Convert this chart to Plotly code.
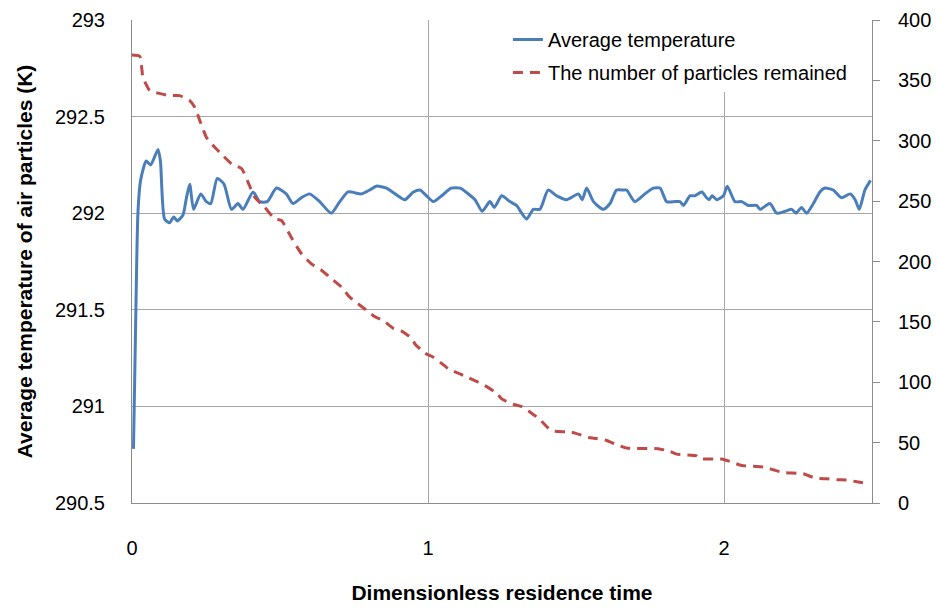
import plotly.graph_objects as go

# Average temperature of air particles (K)
temp_t = [0.005, 0.012, 0.020, 0.029, 0.048, 0.063, 0.088, 0.096, 0.110, 0.127, 0.141, 0.153, 0.172,
          0.184, 0.195, 0.208, 0.232, 0.251, 0.266, 0.288, 0.311, 0.336, 0.358, 0.375, 0.409,
          0.431, 0.457, 0.488, 0.521, 0.544, 0.572, 0.600, 0.634, 0.673, 0.702, 0.730, 0.775,
          0.803, 0.825, 0.860, 0.889, 0.922, 0.951, 0.973, 0.995, 1.018, 1.046, 1.078, 1.109,
          1.136, 1.159, 1.183, 1.209, 1.224, 1.249, 1.277, 1.299, 1.333, 1.356, 1.378, 1.406,
          1.435, 1.468, 1.508, 1.521, 1.536, 1.559, 1.592, 1.615, 1.637, 1.660, 1.671, 1.699,
          1.733, 1.761, 1.784, 1.806, 1.835, 1.851, 1.863, 1.885, 1.902, 1.925, 1.941, 1.950,
          1.960, 1.975, 1.998, 2.011, 2.037, 2.060, 2.082, 2.110, 2.122, 2.155, 2.178, 2.206,
          2.229, 2.243, 2.262, 2.279, 2.302, 2.324, 2.341, 2.369, 2.397, 2.426, 2.443, 2.457,
          2.476, 2.495]
temp_k = [290.78, 291.40, 292.00, 292.17, 292.27, 292.25, 292.33, 292.27, 291.97, 291.95, 291.98, 291.96, 291.99,
          292.08, 292.15, 292.02, 292.10, 292.06, 292.05, 292.18, 292.15, 292.02, 292.05, 292.02, 292.11,
          292.06, 292.06, 292.13, 292.10, 292.05, 292.08, 292.10, 292.06, 292.00, 292.06, 292.11, 292.10,
          292.12, 292.14, 292.13, 292.10, 292.07, 292.11, 292.12, 292.09, 292.06, 292.09, 292.13, 292.13,
          292.10, 292.07, 292.01, 292.06, 292.03, 292.09, 292.06, 292.04, 291.97, 292.02, 292.02, 292.12,
          292.09, 292.07, 292.10, 292.07, 292.13, 292.06, 292.02, 292.05, 292.12, 292.12, 292.12, 292.06,
          292.10, 292.13, 292.13, 292.06, 292.06, 292.06, 292.04, 292.09, 292.09, 292.11, 292.08, 292.07,
          292.09, 292.07, 292.09, 292.14, 292.06, 292.06, 292.04, 292.04, 292.02, 292.05, 292.00, 292.01,
          292.02, 292.00, 292.03, 292.00, 292.05, 292.11, 292.13, 292.12, 292.08, 292.10, 292.07, 292.02,
          292.12, 292.17]

# The number of particles remained
num_t = [0.0, 0.026, 0.037, 0.060, 0.088, 0.127, 0.161, 0.195, 0.212, 0.229, 0.251, 0.274, 0.302,
         0.336, 0.370, 0.392, 0.414, 0.448, 0.482, 0.505, 0.538, 0.572, 0.606, 0.640, 0.673,
         0.707, 0.735, 0.790, 0.821, 0.849, 0.883, 0.911, 0.945, 0.956, 0.990, 1.018, 1.057,
         1.069, 1.108, 1.136, 1.170, 1.198, 1.232, 1.249, 1.288, 1.317, 1.350, 1.373, 1.401,
         1.418, 1.469, 1.497, 1.542, 1.570, 1.604, 1.632, 1.671, 1.705, 1.778, 1.818, 1.840,
         1.908, 1.919, 1.992, 2.026, 2.060, 2.133, 2.167, 2.201, 2.268, 2.307, 2.347, 2.381,
         2.415, 2.454, 2.491]
num_p = [371, 370, 352.6, 341.6, 339.4, 337.4, 337.4, 333.3, 327.8, 316.8, 303, 296, 289,
         281, 277, 265.8, 253.4, 245, 235.5, 234, 220, 206.6, 198, 192.8, 186,
         179, 170.7, 160, 154.2, 151, 144.6, 142.4, 136.4, 131.7, 124, 120.7, 113.5,
         111, 106.9, 103.8, 100, 96.4, 90.9, 86.2, 81.8, 79.8, 74.4, 70.2, 63.3,
         59.8, 58.9, 57.9, 54.2, 53.4, 51.8, 48.8, 45.5, 45.2, 45, 42.7, 40.5,
         39.1, 36.6, 36.4, 33.9, 31.1, 29.8, 27.5, 25.3, 24.2, 20.7, 20, 19.3,
         19, 17.4, 15.9]

x_ticks = [0, 1, 2]
left_ticks = [290.5, 291, 291.5, 292, 292.5, 293]
right_ticks = [0, 50, 100, 150, 200, 250, 300, 350, 400]

FONT = "Liberation Sans, Arial, sans-serif"
GRID = "#A6A6A6"
AXIS = "#8C8C8C"

fig = go.Figure()
fig.add_trace(go.Scatter(x=temp_t, y=temp_k, mode="lines", name="Average temperature",
                         line=dict(color="#4A7EBB", width=3, shape="spline", smoothing=0.6),
                         legendgroup="a"))
fig.add_trace(go.Scatter(x=num_t, y=num_p, mode="lines", name="The number of particles remained",
                         line=dict(color="#BE4B48", width=3, dash="10px,7px", shape="spline", smoothing=0.5),
                         yaxis="y2", legendgroup="b"))

fig.update_layout(
    width=937, height=613,
    margin=dict(l=132, r=65, t=20, b=110, autoexpand=False),
    paper_bgcolor="white", plot_bgcolor="white",
    font=dict(family=FONT, size=20, color="black"),
    showlegend=True,
    legend=dict(x=0.508, y=1.0, xanchor="left", yanchor="top", bgcolor="white",
                borderwidth=0, font=dict(size=20), tracegroupgap=4),
    xaxis=dict(range=[0, 2.5], tickvals=x_ticks, ticktext=[str(v) for v in x_ticks],
               showgrid=True, gridcolor=GRID, gridwidth=1, automargin=False,
               showline=True, linecolor=AXIS, linewidth=1, zeroline=False,
               ticks="", ticklabelstandoff=27,
               title=dict(text="<b>Dimensionless residence time</b>", standoff=27,
                          font=dict(size=21))),
    yaxis=dict(range=[290.5, 293], tickvals=left_ticks,
               ticktext=["290.5", "291", "291.5", "292", "292.5", "293"],
               showgrid=True, gridcolor=GRID, gridwidth=1, automargin=False,
               showline=True, linecolor=AXIS, linewidth=1, zeroline=False,
               ticks="", ticklabelstandoff=22,
               title=dict(text="<b>Average temperature of air particles (K)</b>", standoff=16,
                          font=dict(size=21))),
    yaxis2=dict(range=[0, 400], tickvals=right_ticks, overlaying="y", side="right",
                showgrid=False, zeroline=False, automargin=False,
                showline=True, linecolor=AXIS, linewidth=1,
                ticks="outside", ticklen=7, tickcolor=AXIS, ticklabelstandoff=14),
)

fig.write_html("out.html")
